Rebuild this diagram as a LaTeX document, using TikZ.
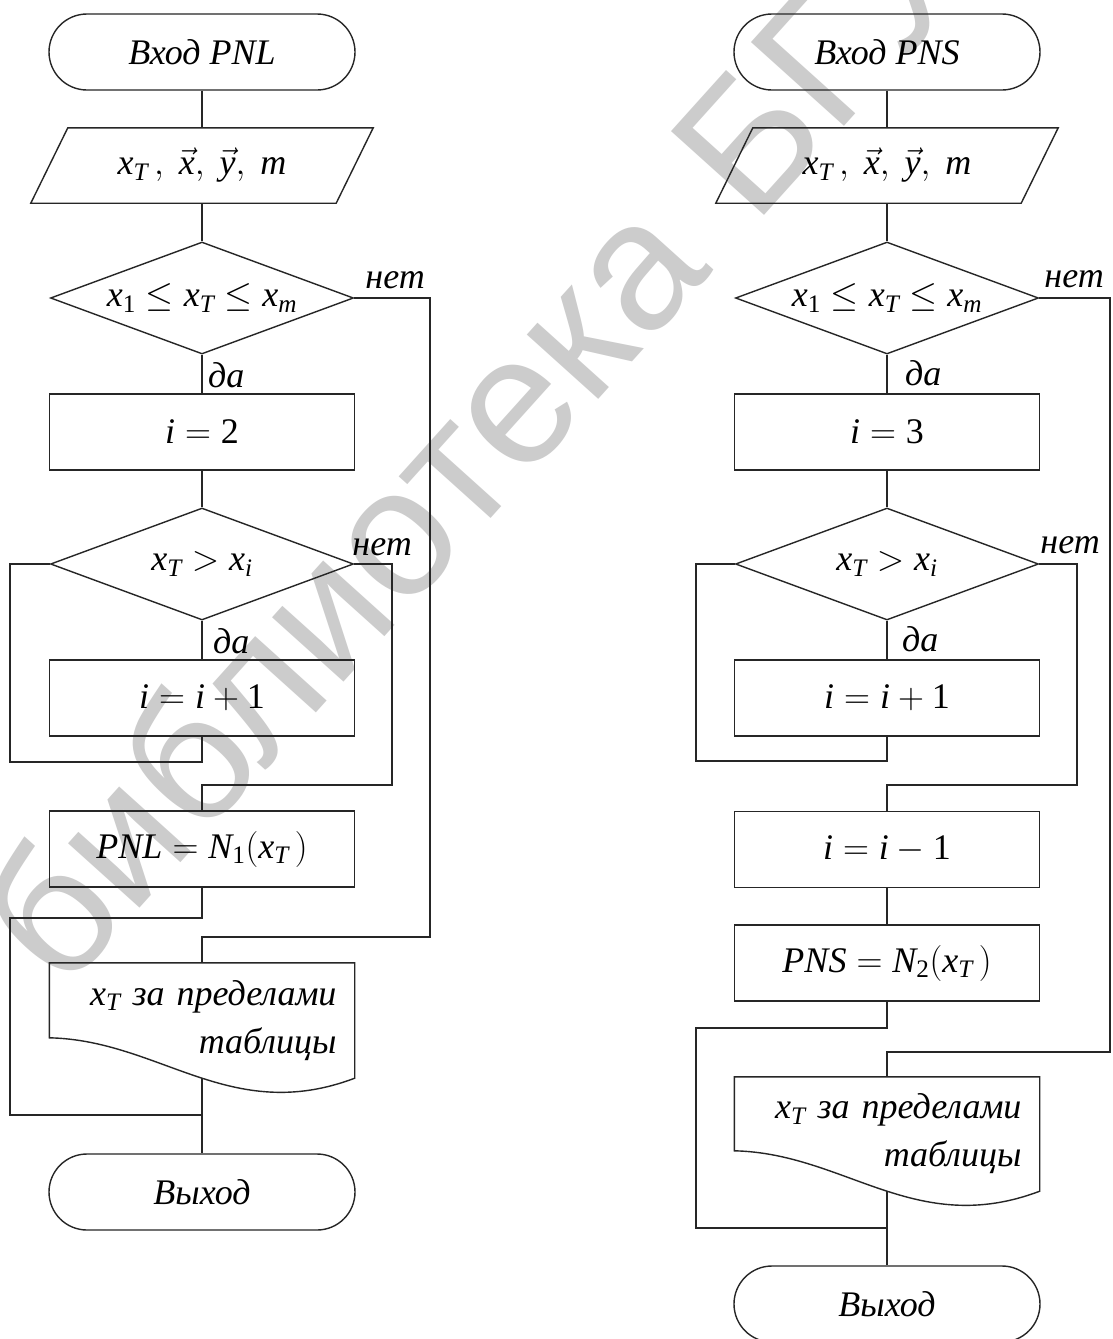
\RequirePackage{fix-cm}
\documentclass[tikz,border=0pt]{standalone}
\usepackage{amsmath}
\usepackage{fontspec}
\setmainfont{Liberation Serif}
\newfontfamily\wmfont{Liberation Sans}
\usetikzlibrary{calc,shapes.geometric}

\newcommand{\mv}[1]{\mathit{#1}}
\newcommand{\dg}[1]{\text{\upshape #1}}

\tikzset{
  flow/.style={draw=black!85, line width=1.4pt},
  wire/.style={draw=black!85, line width=1.4pt},
  txt/.style={font=\fontsize{36}{42}\selectfont},
  box/.style={flow, txt, rectangle, minimum width=305pt, minimum height=76pt, inner sep=0pt},
  term/.style={box, rounded corners=38pt, minimum width=306pt},
  iobox/.style={txt, rectangle, draw=none, minimum width=305pt, minimum height=75pt, inner sep=0pt},
  cond/.style={flow, txt, diamond, aspect=2.7, minimum width=303pt, minimum height=112pt, inner sep=0pt},
  docbox/.style={rectangle, draw=none, minimum width=305pt, minimum height=115pt,
    text width=269pt, align=right, inner xsep=18pt, inner ysep=0pt,
    font=\fontsize{36}{48}\selectfont\itshape},
  lbl/.style={font=\fontsize{36}{42}\selectfont\itshape, inner sep=0pt, anchor=base west},
  wm/.style={text=black!20, font=\wmfont\fontsize{182}{182}\selectfont, rotate=48,
    anchor=base west, inner sep=0pt}
}

\begin{document}
\begin{tikzpicture}[x=1pt,y=-1pt]
\useasboundingbox (0,0) rectangle (1113,1339);
\fill[white] (0,0) rectangle (1113,1339);

% watermark
\node[wm] (wmark) at (62,995) {библиотека\hspace{60pt}БГУИР};

% ---------- left chart: PNL ----------
\node[term] (startL) at (202,52) {\itshape Вход PNL};
\node[iobox] (inL) at (202,165.5) {$\mv{x}_{\mv{T}}\,,\ \vec{\mv{x}},\ \vec{\mv{y}},\ \mv{m}$};
\draw[flow] ($(inL.north west)+(18.5,0)$) -- ($(inL.north east)+(18.5,0)$)
  -- ($(inL.south east)+(-18.5,0)$) -- ($(inL.south west)+(-18.5,0)$) -- cycle;
\node[cond] (d1L) at (202,298) {$\mv{x}_{\dg{1}} \le \mv{x}_{\mv{T}} \le \mv{x}_{\mv{m}}$};
\node[box] (initL) at (202,432) {$\mv{i} = \dg{2}$};
\node[cond] (d2L) at (202,564) {$\mv{x}_{\mv{T}} > \mv{x}_{\mv{i}}$};
\node[box] (incL) at (202,698) {$\mv{i} = \mv{i} + \dg{1}$};
\node[box] (resL) at (202,849) {$\mv{PNL} = \mv{N}_{\dg{1}}(\mv{x}_{\mv{T}}\,)$};
\node[docbox] (docL) at (202,1020.5) {$\mv{x}_{\mv{T}}$ за пределами\\ таблицы};
\draw[flow] (docL.south east) -- (docL.north east) -- (docL.north west)
  -- ($(docL.north west)+(0,75)$)
  .. controls ($(docL.south west)+(111,-38)$) and ($(docL.south west)+(181,47)$) .. (docL.south east)
  -- cycle;
\node[term] (endL) at (202,1192) {\itshape Выход};

\draw[wire] (startL) -- (inL);
\draw[wire] (inL) -- (d1L);
\draw[wire] (d1L) -- (initL);
\draw[wire] (initL) -- (d2L);
\draw[wire] (d2L) -- (incL);
\coordinate (loopL) at (10,762);
\draw[wire] (incL.south) |- (loopL) |- (d2L.west);
\coordinate (skipL) at (392,785);
\draw[wire] (d2L.east) -| (skipL) -| (resL.north);
\coordinate (outL) at (430,937);
\draw[wire] (d1L.east) -| (outL) -| (docL.north);
\coordinate (backL) at (10,918);
\coordinate (mergeL) at (202,1115);
\draw[wire] (resL.south) |- (backL) |- (mergeL);
\draw[wire] (docL.south) -- (endL);

\node[lbl] (yesL1) at ($(d1L.south)+(6,33)$) {да};
\node[lbl] (yesL2) at ($(d2L.south)+(11,33)$) {да};
\node[lbl] (noL1) at ($(d1L.east)+(11,-10)$) {нет};
\node[lbl] (noL2) at ($(d2L.east)+(-2,-9)$) {нет};

% ---------- right chart: PNS ----------
\node[term] (startR) at (887,52) {\itshape Вход PNS};
\node[iobox] (inR) at (887,165.5) {$\mv{x}_{\mv{T}}\,,\ \vec{\mv{x}},\ \vec{\mv{y}},\ \mv{m}$};
\draw[flow] ($(inR.north west)+(18.5,0)$) -- ($(inR.north east)+(18.5,0)$)
  -- ($(inR.south east)+(-18.5,0)$) -- ($(inR.south west)+(-18.5,0)$) -- cycle;
\node[cond] (d1R) at (887,298) {$\mv{x}_{\dg{1}} \le \mv{x}_{\mv{T}} \le \mv{x}_{\mv{m}}$};
\node[box] (initR) at (887,432) {$\mv{i} = \dg{3}$};
\node[cond] (d2R) at (887,564) {$\mv{x}_{\mv{T}} > \mv{x}_{\mv{i}}$};
\node[box] (incR) at (887,698) {$\mv{i} = \mv{i} + \dg{1}$};
\node[box] (decR) at (887,849.5) {$\mv{i} = \mv{i} - \dg{1}$};
\node[box] (resR) at (887,963) {$\mv{PNS} = \mv{N}_{\dg{2}}(\mv{x}_{\mv{T}}\,)$};
\node[docbox, minimum height=114pt] (docR) at (887,1134) {$\mv{x}_{\mv{T}}$ за пределами\\ таблицы};
\draw[flow] (docR.south east) -- (docR.north east) -- (docR.north west)
  -- ($(docR.north west)+(0,74)$)
  .. controls ($(docR.south west)+(111,-38)$) and ($(docR.south west)+(181,47)$) .. (docR.south east)
  -- cycle;
\node[term] (endR) at (887,1304) {\itshape Выход};

\draw[wire] (startR) -- (inR);
\draw[wire] (inR) -- (d1R);
\draw[wire] (d1R) -- (initR);
\draw[wire] (initR) -- (d2R);
\draw[wire] (d2R) -- (incR);
\coordinate (loopR) at (696,761);
\draw[wire] (incR.south) |- (loopR) |- (d2R.west);
\coordinate (skipR) at (1077,785);
\draw[wire] (d2R.east) -| (skipR) -| (decR.north);
\draw[wire] (decR) -- (resR);
\coordinate (outR) at (1110,1052);
\draw[wire] (d1R.east) -| (outR) -| (docR.north);
\coordinate (backR) at (696,1028);
\coordinate (mergeR) at (887,1228);
\draw[wire] (resR.south) |- (backR) |- (mergeR);
\draw[wire] (docR.south) -- (endR);

\node[lbl] (yesR1) at ($(d1R.south)+(18,31)$) {да};
\node[lbl] (yesR2) at ($(d2R.south)+(15,31)$) {да};
\node[lbl] (noR1) at ($(d1R.east)+(5,-11)$) {нет};
\node[lbl] (noR2) at ($(d2R.east)+(1,-11)$) {нет};
\end{tikzpicture}
\end{document}
